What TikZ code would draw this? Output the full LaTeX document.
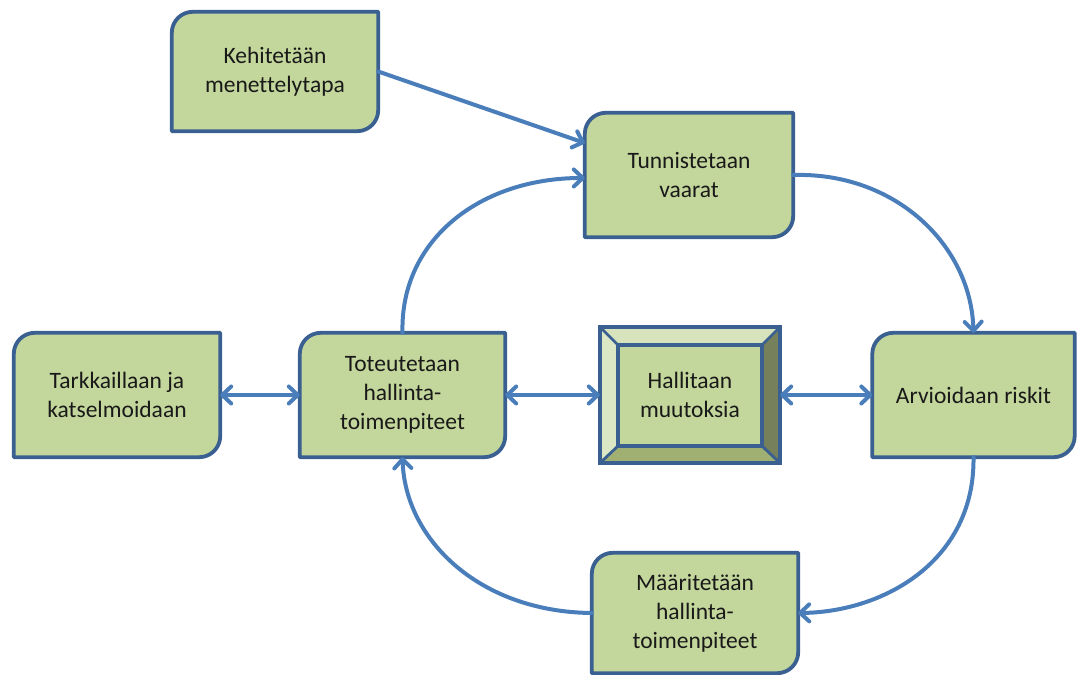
\documentclass[tikz,border=0pt]{standalone}
\usepackage{fontspec}
\setmainfont{Carlito}[Ligatures={NoCommon}]
\usetikzlibrary{arrows.meta,backgrounds}
\definecolor{boxfill}{HTML}{C3D69B}
\definecolor{boxline}{HTML}{3A6091}
\definecolor{arrowc}{HTML}{4A7EBB}
\definecolor{bevtop}{HTML}{D7E3BC}
\definecolor{bevleft}{HTML}{DCE7C6}
\definecolor{bevright}{HTML}{76805A}
\definecolor{bevbot}{HTML}{A0B073}
\tikzset{
  x=1pt,y=1pt,
  stepbox/.style={draw=none,inner sep=0pt,minimum width=206pt,minimum height=122pt,
    align=center,font=\fontsize{23.5}{29}\selectfont,text=black!90},
  outline/.style={fill=boxfill,draw=boxline,line width=3.8pt,line join=round},
  conn/.style={draw=arrowc,line width=4pt,line cap=round,
    -{Straight Barb[length=9pt,width=17pt,line cap=round,line join=round]}},
  dconn/.style={draw=arrowc,line width=4pt,line cap=round,
    {Straight Barb[length=9pt,width=17pt,line cap=round,line join=round]}-{Straight Barb[length=9pt,width=17pt,line cap=round,line join=round]}},
}
\begin{document}
\begin{tikzpicture}
\useasboundingbox (0,0) rectangle (1077,675);
\node[stepbox,minimum width=206pt,minimum height=119pt] (keh) at (275,603.5) {Kehitetään\\menettelytapa};
\node[stepbox,minimum width=208pt,minimum height=124pt] (tun) at (689,500) {Tunnistetaan\\vaarat};
\node[stepbox,minimum width=202pt,minimum height=124pt] (arv) at (973.5,280) {Arvioidaan riskit};
\node[stepbox,minimum width=206pt,minimum height=120pt] (maa) at (695,62) {Määritetään\\hallinta-\\toimenpiteet};
\node[stepbox,minimum width=205pt,minimum height=124pt] (tot) at (402.5,280) {Toteutetaan\\hallinta-\\toimenpiteet};
\node[stepbox,minimum width=206pt,minimum height=124pt] (tar) at (117,280) {Tarkkaillaan ja\\katselmoidaan};
\node[stepbox,minimum width=180pt,minimum height=136pt] (hal) at (690,280) {Hallitaan\\muutoksia};
\begin{scope}[on background layer]
\foreach \n in {keh,tun,arv,maa,tot,tar}{
  \draw[outline] (\n.south west) -- ([yshift=-21pt]\n.north west)
    arc[start angle=180,end angle=90,radius=21pt] -- (\n.north east)
    -- ([yshift=21pt]\n.south east) arc[start angle=0,end angle=-90,radius=21pt] -- cycle;
}
\coordinate (inw) at ([shift={(18pt,-18pt)}]hal.north west);
\coordinate (ine) at ([shift={(-18pt,-18pt)}]hal.north east);
\coordinate (isw) at ([shift={(18pt,17pt)}]hal.south west);
\coordinate (ise) at ([shift={(-18pt,17pt)}]hal.south east);
\fill[boxfill] (hal.south west) rectangle (hal.north east);
\fill[bevtop] (hal.north west) -- (hal.north east) -- (ine) -- (inw) -- cycle;
\fill[bevleft] (hal.north west) -- (inw) -- (isw) -- (hal.south west) -- cycle;
\fill[bevright] (hal.north east) -- (ine) -- (ise) -- (hal.south east) -- cycle;
\fill[bevbot] (hal.south west) -- (isw) -- (ise) -- (hal.south east) -- cycle;
\draw[boxline,line width=2.8pt] (hal.north west) -- (inw) (hal.north east) -- (ine)
  (hal.south west) -- (isw) (hal.south east) -- (ise);
\draw[boxline,line width=3.8pt] (inw) rectangle (ise);
\draw[boxline,line width=4.2pt] (hal.south west) rectangle (hal.north east);
\end{scope}
\draw[conn] (keh.east) -- ([yshift=32pt]tun.west);
\draw[conn] (tun.east) .. controls (895,503) and (971,430) .. (arv.north);
\draw[conn] (arv.south) .. controls (975,115) and (885,63) .. (maa.east);
\draw[conn] (maa.west) .. controls (480,63) and (405,135) .. (tot.south);
\draw[conn] (tot.north) .. controls (400,435) and (480,497) .. ([yshift=-3pt]tun.west);
\draw[dconn] (tar.east) -- (tot.west);
\draw[dconn] (tot.east) -- (hal.west);
\draw[dconn] (hal.east) -- (arv.west);
\end{tikzpicture}
\end{document}
